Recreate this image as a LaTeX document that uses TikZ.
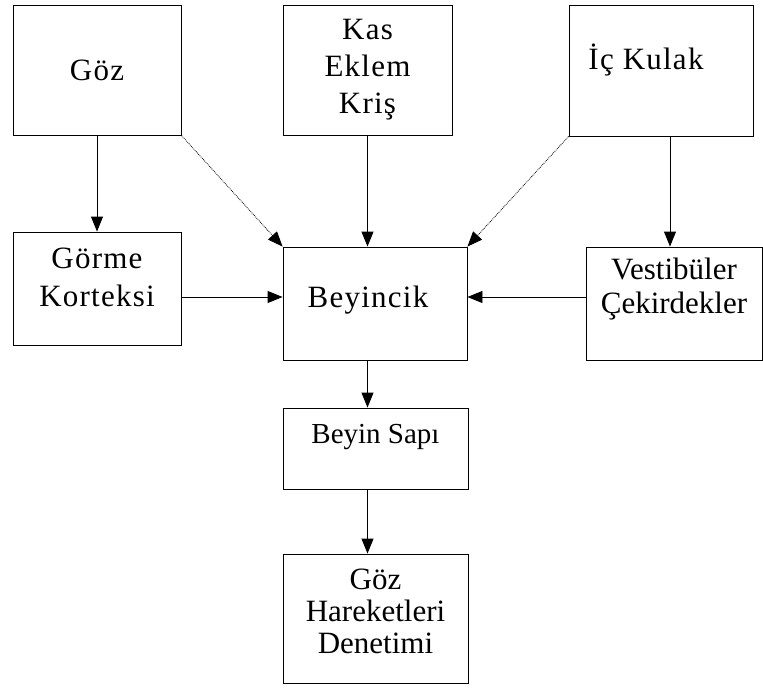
\documentclass[tikz,border=0pt]{standalone}
\usepackage{fontspec}
\setmainfont{Liberation Serif}
\newfontfamily\spacedserif[LetterSpace=4]{Liberation Serif}
\usetikzlibrary{arrows.meta,positioning}

\begin{document}
\begin{tikzpicture}[x=1pt, y=-1pt, >={Triangle[length=15pt, width=12pt]},
        box/.style={draw, line width=0.9pt, inner sep=0pt},
        wide/.style={font=\spacedserif\fontsize{31}{37}\selectfont, align=center},
        plain/.style={font=\fontsize{31}{32}\selectfont, align=center},
        link/.style={->, line width=0.9pt},
        side/.style={->, line width=0.8pt, densely dotted}]
        \useasboundingbox (0,0) rectangle (763,688);

        % Sense inputs
        \node[box, minimum width=168pt, minimum height=130pt, label={[wide]center:Göz}] (goz) at (97,70) {};
        \node[box, minimum width=169pt, minimum height=130pt, label={[wide]center:Kas\\Eklem\\Kriş}] (kas) at (367.5,70) {};
        \node[box, minimum width=184pt, minimum height=131pt, label={[wide, xshift=-15pt, yshift=10pt]center:İç Kulak}] (kulak) at (661,70.5) {};

        % Relay stations
        \node[box, minimum width=168pt, minimum height=113pt, label={[wide, yshift=11pt, font=\spacedserif\fontsize{31}{38}\selectfont]center:Görme\\Korteksi}] (gorme) at (97,288.5) {};
        \node[box, minimum width=184pt, minimum height=113pt, label={[wide, xshift=-7pt, yshift=3pt]center:Beyincik}] (beyincik) at (375,303.5) {};
        \node[box, minimum width=176pt, minimum height=113pt, label={[plain, yshift=14pt, font=\fontsize{31}{34}\selectfont]center:Vestibüler\\Çekirdekler}] (vest) at (674,303.5) {};

        % Output
        \node[box, minimum width=185pt, minimum height=81pt, label={[plain, yshift=11pt, font=\fontsize{29}{32}\selectfont]center:Beyin Sapı}] (sapi) at (375.5,448.5) {};
        \node[box, minimum width=185pt, minimum height=129pt, label={[plain, yshift=7pt]center:Göz\\Hareketleri\\Denetimi}] (hareket) at (375.5,618.5) {};

        % Arrows
        \draw[link] (goz) -- (gorme);
        \draw[side] (goz.south east) -- (beyincik.north west);
        \draw[link] (kas) -- (kas |- beyincik.north);
        \draw[side] (kulak.south west) -- (beyincik.north east);
        \draw[link] ([xshift=-4pt]vest.north |- kulak.south) -- ([xshift=-4pt]vest.north);
        \draw[link] ([yshift=-8.5pt]gorme.east) -- ([yshift=-8.5pt]gorme.east -| beyincik.west);
        \draw[link] ([yshift=6.5pt]vest.west) -- ([yshift=6.5pt]vest.west -| beyincik.east);
        \draw[link] (beyincik.south -| kas) -- (sapi.north -| kas);
        \draw[link] (sapi.south -| kas) -- (hareket.north -| kas);
    \end{tikzpicture}
\end{document}
